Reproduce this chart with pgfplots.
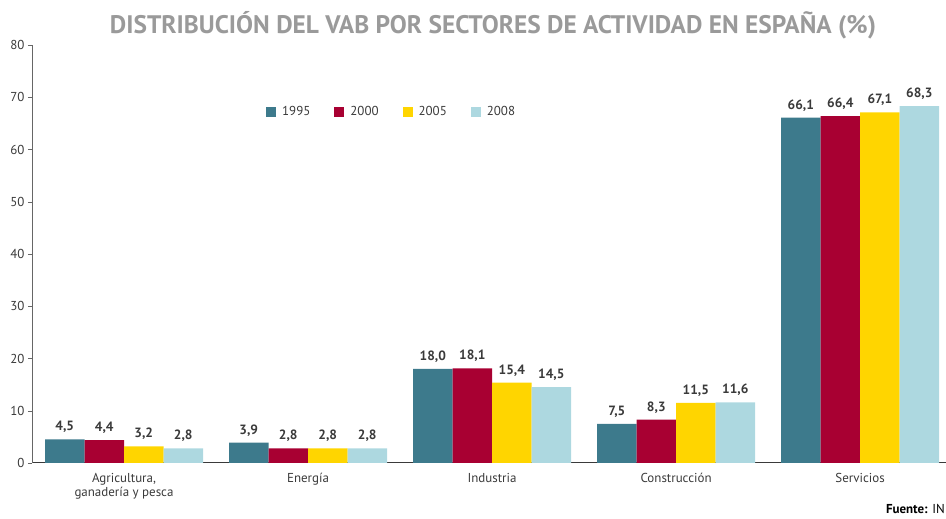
\documentclass[border=0pt]{standalone}
\usepackage{fontspec}
\setmainfont{PT Sans}
\usepackage{pgfplots}
\pgfplotsset{compat=1.18}
\definecolor{c1995}{HTML}{3D7A8C}
\definecolor{c2000}{HTML}{A80032}
\definecolor{c2005}{HTML}{FFD500}
\definecolor{c2008}{HTML}{ADD8E0}
\definecolor{titlegray}{HTML}{9A9A9A}
\definecolor{txt}{HTML}{3A3A3A}
\begin{document}
\begin{tikzpicture}[x=1bp,y=1bp]
\path[use as bounding box] (0,0) rectangle (946,519);
\node[font=\bfseries, text=titlegray, inner sep=0pt] at (493,494) {\resizebox{766bp}{!}{DISTRIBUCIÓN DEL VAB POR SECTORES DE ACTIVIDAD EN ESPAÑA (\%)}};
\node[anchor=east, font=\fontsize{13}{15}\selectfont, text=black, inner sep=0pt] at (945,10) {\textbf{Fuente:} IN};
\begin{axis}[
  at={(32bp,56bp)}, anchor=south west,
  scale only axis, width=914bp, height=418bp,
  xmin=-0.5, xmax=4.467, ymin=0, ymax=80,
  ybar=0pt, bar width=39.5bp,
  axis lines=left, axis line style={-},
  x axis line style={draw=txt, line width=1pt},
  y axis line style={draw=gray!80!black, line width=0.8pt},
  ytick={0,10,...,80},
  ytick align=outside, major tick length=4bp,
  ytick style={draw=gray!80!black},
  xtick={0,1,2,3,4},
  xticklabels={{Agricultura,\\ganadería y pesca},Energía,Industria,Construcción,Servicios},
  x tick style={draw=none},
  extra x ticks={0.5,1.5,2.5,3.5},
  extra x tick labels={},
  extra x tick style={tick style={draw=txt, line width=0.8pt}, xtick align=outside, major tick length=5bp},
  xticklabel style={align=center, font=\fontsize{13}{14}\selectfont, text=txt, yshift=-5bp},
  yticklabel style={font=\fontsize{13}{14}\selectfont, text=txt},
  /pgf/number format/assume math mode=true,
  nodes near coords,
  nodes near coords style={font=\bfseries\fontsize{13.5}{15}\selectfont, text=txt, anchor=south, yshift=3bp,
    /pgf/number format/.cd, fixed, fixed zerofill, precision=1, use comma, assume math mode=true},
  legend style={at={(axis description cs:0.256,0.84)}, anchor=west, draw=none, fill=none, inner sep=0pt,
    font=\fontsize{13}{14}\selectfont, text=txt,
    /tikz/every odd column/.append style={column sep=4bp},
    /tikz/every even column/.append style={column sep=22bp}},
  legend columns=4,
  legend image code/.code={\fill[#1] (0bp,-5bp) rectangle (10bp,5bp);},
]
\addplot[fill=c1995, draw=none] coordinates {(0,4.5) (1,3.9) (2,18.0) (3,7.5) (4,66.1)};
\addplot[fill=c2000, draw=none] coordinates {(0,4.4) (1,2.8) (2,18.1) (3,8.3) (4,66.4)};
\addplot[fill=c2005, draw=none] coordinates {(0,3.2) (1,2.8) (2,15.4) (3,11.5) (4,67.1)};
\addplot[fill=c2008, draw=none] coordinates {(0,2.8) (1,2.8) (2,14.5) (3,11.6) (4,68.3)};
\legend{1995,2000,2005,2008}
\end{axis}
\end{tikzpicture}
\end{document}
